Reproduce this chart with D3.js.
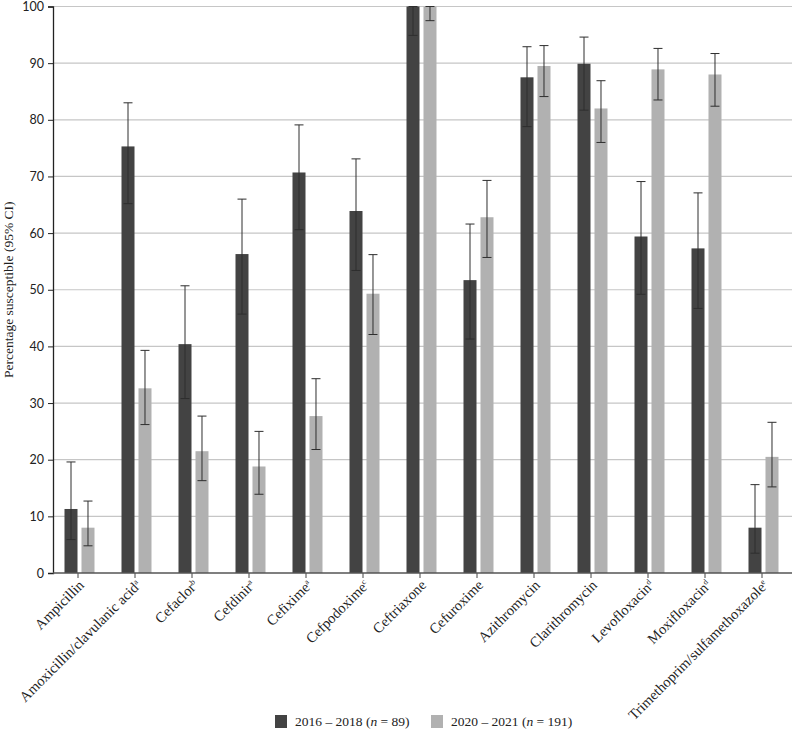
<!DOCTYPE html>
<html>
<head>
<meta charset="utf-8">
<script src="https://cdn.jsdelivr.net/npm/d3@7"></script>
<style>
  html, body { margin: 0; padding: 0; background: #fff; }
</style>
</head>
<body>
<div id="chart"></div>
<script>
// categories (label + superscript marker)
const drugs = ["Ampicillin", "Amoxicillin/clavulanic acid", "Cefaclor", "Cefdinir", "Cefixime",
  "Cefpodoxime", "Ceftriaxone", "Cefuroxime", "Azithromycin", "Clarithromycin",
  "Levofloxacin", "Moxifloxacin", "Trimethoprim/sulfamethoxazole"];
const marks = ["", "a", "b", "a", "a", "c", "", "", "", "", "d", "d", "e"];

const seriesNames = ["2016 – 2018", "2020 – 2021"];
const seriesN = [89, 191];

// 2016-2018
const early = [11.3, 75.3, 40.4, 56.3, 70.7, 63.9, 100, 51.7, 87.5, 89.9, 59.4, 57.3, 8.0];
const earlyLo = [5.9, 65.2, 30.8, 45.7, 60.6, 53.4, 94.9, 41.3, 78.8, 81.7, 49.2, 46.7, 3.5];
const earlyHi = [19.6, 83.0, 50.7, 66.0, 79.1, 73.1, 100, 61.6, 92.9, 94.6, 69.1, 67.1, 15.6];

// 2020-2021
const late = [8.0, 32.6, 21.5, 18.8, 27.7, 49.3, 100, 62.8, 89.5, 82.0, 88.9, 88.0, 20.5];
const lateLo = [4.8, 26.2, 16.3, 13.9, 21.8, 42.1, 97.5, 55.7, 84.1, 76.0, 83.5, 82.4, 15.2];
const lateHi = [12.7, 39.3, 27.7, 25.0, 34.3, 56.2, 100, 69.3, 93.1, 86.9, 92.6, 91.7, 26.6];

const yTicks = [0, 10, 20, 30, 40, 50, 60, 70, 80, 90, 100];

const W = 794, H = 731;
const colors = ["#434343", "#b1b1b1"];

const rows = drugs.map((d, i) => ({
  drug: d, mark: marks[i],
  vals: [
    { s: 0, v: early[i], lo: earlyLo[i], hi: earlyHi[i] },
    { s: 1, v: late[i], lo: lateLo[i], hi: lateHi[i] }
  ]
}));

const svg = d3.select("#chart").append("svg")
  .attr("width", W).attr("height", H);

const axisLeftX = 53, axisRightX = 792;

const y = d3.scaleLinear().domain([0, 100]).range([573, 6.5]);
const x = d3.scaleBand().domain(drugs).range([49.5, 790.5]);
const xs = d3.scaleBand().domain([0, 1]).range([-13.5, 16.5]).paddingInner(0.235);

// gridlines
svg.append("g").selectAll("line")
  .data(yTicks.filter(t => t > 0))
  .join("line")
  .attr("x1", axisLeftX).attr("x2", axisRightX)
  .attr("y1", d => y(d)).attr("y2", d => y(d))
  .attr("stroke", "#c6c6c6").attr("stroke-width", 1.2);

// bars
const groups = svg.append("g").selectAll("g")
  .data(rows)
  .join("g")
  .attr("transform", d => `translate(${x(d.drug) + x.bandwidth() / 2},0)`);

groups.selectAll("rect")
  .data(d => d.vals)
  .join("rect")
  .attr("x", d => xs(d.s))
  .attr("width", xs.bandwidth())
  .attr("y", d => y(d.v))
  .attr("height", d => y(0) - y(d.v))
  .attr("fill", d => colors[d.s]);

// error bars
const capW = 9;
const eb = groups.selectAll("g.err")
  .data(d => d.vals)
  .join("g")
  .attr("class", "err")
  .attr("stroke", "#2e2e2e")
  .attr("stroke-width", 1);
eb.append("line")
  .attr("x1", d => xs(d.s) + xs.bandwidth() / 2).attr("x2", d => xs(d.s) + xs.bandwidth() / 2)
  .attr("y1", d => y(d.lo)).attr("y2", d => y(d.hi));
eb.append("line")
  .attr("x1", d => xs(d.s) + xs.bandwidth() / 2 - capW / 2).attr("x2", d => xs(d.s) + xs.bandwidth() / 2 + capW / 2)
  .attr("y1", d => y(d.lo)).attr("y2", d => y(d.lo));
eb.append("line")
  .attr("x1", d => xs(d.s) + xs.bandwidth() / 2 - capW / 2).attr("x2", d => xs(d.s) + xs.bandwidth() / 2 + capW / 2)
  .attr("y1", d => y(d.hi)).attr("y2", d => y(d.hi));

// y axis
const yAxis = svg.append("g")
  .attr("transform", `translate(${axisLeftX},0)`)
  .call(d3.axisLeft(y).tickValues(yTicks).tickSize(5).tickPadding(4));
yAxis.select(".domain").attr("stroke", "#222").attr("stroke-width", 1.3);
yAxis.selectAll(".tick line").attr("stroke", "#222");
yAxis.selectAll("text")
  .attr("font-family", "Lato, 'Noto Sans', sans-serif")
  .attr("font-size", 12.5)
  .attr("fill", "#222");

// x axis
const xAxis = svg.append("g")
  .attr("transform", `translate(0,${y(0)})`)
  .call(d3.axisBottom(x).tickSize(5).tickFormat(""));
xAxis.select(".domain").remove();
xAxis.selectAll(".tick line").attr("stroke", "#444");
xAxis.append("line")
  .attr("x1", axisLeftX).attr("x2", axisRightX)
  .attr("stroke", "#555").attr("stroke-width", 1.5);

// rotated category labels
const lab = svg.append("g").selectAll("text")
  .data(rows)
  .join("text")
  .attr("transform", d => `translate(${x(d.drug) + x.bandwidth() / 2 + 7},${y(0) + 13}) rotate(-45)`)
  .attr("text-anchor", "end")
  .attr("font-family", "'Liberation Serif', 'Times New Roman', serif")
  .attr("font-size", 14.5)
  .attr("fill", "#222");
lab.append("tspan").text(d => d.drug);
lab.append("tspan")
  .attr("dy", -5)
  .attr("font-size", 8)
  .text(d => d.mark);

// y axis title
svg.append("text")
  .attr("transform", `translate(13,${y(50)}) rotate(-90)`)
  .attr("text-anchor", "middle")
  .attr("font-family", "'Liberation Serif', 'Times New Roman', serif")
  .attr("font-size", 13.5)
  .attr("fill", "#222")
  .text("Percentage susceptible (95% CI)");

// legend
const legendX = [275, 431];
const leg = svg.append("g").selectAll("g")
  .data(seriesNames)
  .join("g")
  .attr("transform", (d, i) => `translate(${legendX[i]},715)`);
leg.append("rect")
  .attr("width", 12).attr("height", 13)
  .attr("fill", (d, i) => colors[i]);
const lt = leg.append("text")
  .attr("x", 20).attr("y", 11)
  .attr("font-family", "'Liberation Serif', 'Times New Roman', serif")
  .attr("font-size", 13.5)
  .attr("fill", "#222");
lt.append("tspan").text(d => d + " (");
lt.append("tspan").attr("font-style", "italic").text("n");
lt.append("tspan").text((d, i) => " = " + seriesN[i] + ")");
</script>
</body>
</html>
